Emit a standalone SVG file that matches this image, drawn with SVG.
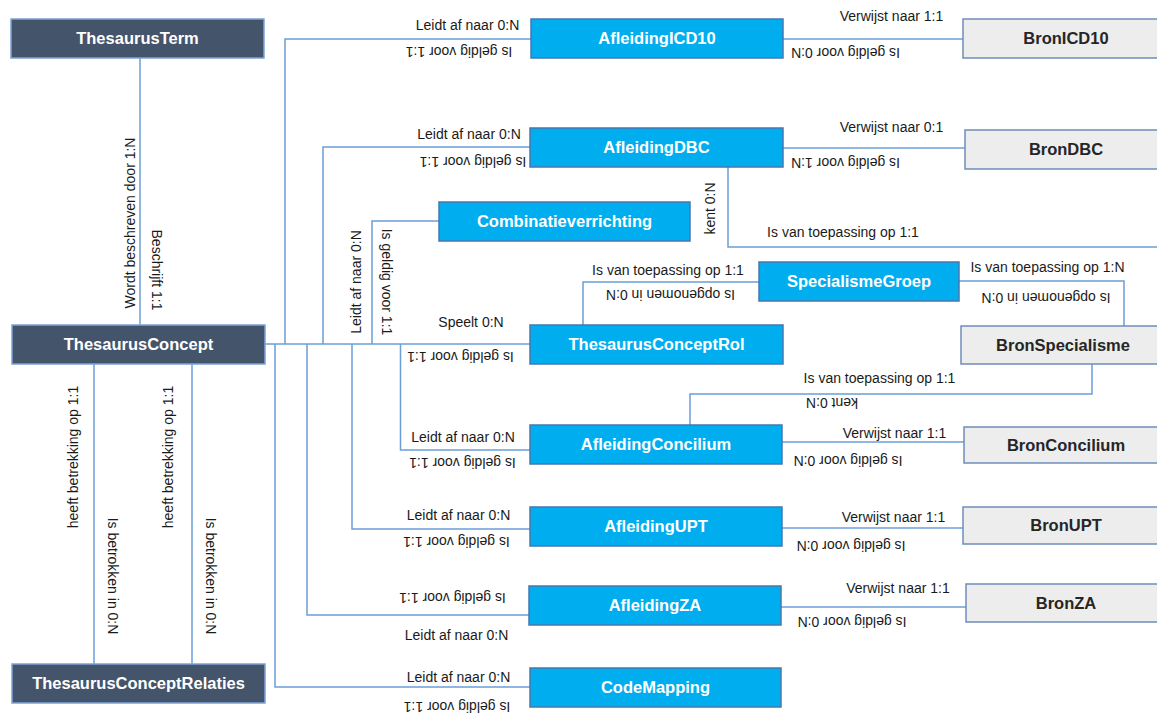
<svg xmlns="http://www.w3.org/2000/svg" width="1157" height="715" viewBox="0 0 1157 715">
<style>
.bg{fill:#ffffff}
.c{fill:none;stroke:#6A9FD8;stroke-width:1.5}
.nd rect{stroke-width:1.5}
.dk rect{fill:#44546A;stroke:#7FA3D6}
.bl rect{fill:#00AEEF;stroke:#4677B0}
.gr rect{fill:#EDEDED;stroke:#6F8DBA}
.nd text{font-family:"Liberation Sans",Arial,sans-serif;font-weight:bold;font-size:16.5px;text-anchor:middle}
.dk text,.bl text{fill:#ffffff}
.gr text{fill:#262626}
.l{font-family:"Liberation Sans",Arial,sans-serif;font-size:14px;fill:#1a1a1a;text-anchor:middle}
</style>
<rect class="bg" x="0" y="0" width="1157" height="715"/>
<g id="connectors">
<path class="c" d="M140 58V325"/>
<path class="c" d="M265 344H530"/>
<path class="c" d="M285 344V39H531"/>
<path class="c" d="M323 344V147H530"/>
<path class="c" d="M372 344V221H439"/>
<path class="c" d="M275 344V687H530"/>
<path class="c" d="M307 344V615H529"/>
<path class="c" d="M352 344V529H530"/>
<path class="c" d="M400.5 344V450H530"/>
<path class="c" d="M94 364V664"/>
<path class="c" d="M192 364V664"/>
<path class="c" d="M783 39H963"/>
<path class="c" d="M769 148H965"/>
<path class="c" d="M728 167V247H1157"/>
<path class="c" d="M583 325V282H759"/>
<path class="c" d="M959 281H1124V326"/>
<path class="c" d="M1092 364V394H690V425"/>
<path class="c" d="M782 442H964"/>
<path class="c" d="M782 528H963"/>
<path class="c" d="M781 607H966"/>
</g>
<g id="labels">
<text class="l" x="467.5" y="25" dy="0.35em">Leidt af naar 0:N</text>
<text class="l" transform="translate(459 52) rotate(180)" dy="0.35em">Is geldig voor 1:1</text>
<text class="l" x="891.5" y="16" dy="0.35em">Verwijst naar 1:1</text>
<text class="l" transform="translate(845.5 53) rotate(180)" dy="0.35em">Is geldig voor 0:N</text>
<text class="l" x="469" y="134" dy="0.35em">Leidt af naar 0:N</text>
<text class="l" transform="translate(473 162) rotate(180)" dy="0.35em">Is geldig voor 1:1</text>
<text class="l" x="891.5" y="127" dy="0.35em">Verwijst naar 0:1</text>
<text class="l" transform="translate(845.5 163) rotate(180)" dy="0.35em">Is geldig voor 1:N</text>
<text class="l" x="843" y="232" dy="0.35em">Is van toepassing op 1:1</text>
<text class="l" transform="translate(710 208.5) rotate(-90)" dy="0.35em">kent 0:N</text>
<text class="l" transform="translate(130 223) rotate(-90)" dy="0.35em">Wordt beschreven door 1:N</text>
<text class="l" transform="translate(157 270) rotate(90)" dy="0.35em">Beschrijft 1:1</text>
<text class="l" transform="translate(356 282) rotate(-90)" dy="0.35em">Leidt af naar 0:N</text>
<text class="l" transform="translate(387 282) rotate(90)" dy="0.35em">Is geldig voor 1:1</text>
<text class="l" x="471" y="322" dy="0.35em">Speelt 0:N</text>
<text class="l" transform="translate(460.5 357) rotate(180)" dy="0.35em">Is geldig voor 1:1</text>
<text class="l" x="668" y="270" dy="0.35em">Is van toepassing op 1:1</text>
<text class="l" transform="translate(670.5 295) rotate(180)" dy="0.35em">Is opgenomen in 0:N</text>
<text class="l" x="1047.5" y="267" dy="0.35em">Is van toepassing op 1:N</text>
<text class="l" transform="translate(1046 298) rotate(180)" dy="0.35em">Is opgenomen in 0:N</text>
<text class="l" x="879.5" y="378" dy="0.35em">Is van toepassing op 1:1</text>
<text class="l" transform="translate(832 403) rotate(180)" dy="0.35em">kent 0:N</text>
<text class="l" x="463" y="437" dy="0.35em">Leidt af naar 0:N</text>
<text class="l" transform="translate(462.5 463) rotate(180)" dy="0.35em">Is geldig voor 1:1</text>
<text class="l" x="894.5" y="433" dy="0.35em">Verwijst naar 1:1</text>
<text class="l" transform="translate(848 461) rotate(180)" dy="0.35em">Is geldig voor 0:N</text>
<text class="l" x="458.5" y="515" dy="0.35em">Leidt af naar 0:N</text>
<text class="l" transform="translate(456.5 542) rotate(180)" dy="0.35em">Is geldig voor 1:1</text>
<text class="l" x="893.5" y="517" dy="0.35em">Verwijst naar 1:1</text>
<text class="l" transform="translate(851 546) rotate(180)" dy="0.35em">Is geldig voor 0:N</text>
<text class="l" transform="translate(452.5 598) rotate(180)" dy="0.35em">Is geldig voor 1:1</text>
<text class="l" x="456.5" y="635" dy="0.35em">Leidt af naar 0:N</text>
<text class="l" x="898" y="588" dy="0.35em">Verwijst naar 1:1</text>
<text class="l" transform="translate(852 622) rotate(180)" dy="0.35em">Is geldig voor 0:N</text>
<text class="l" x="458.5" y="677" dy="0.35em">Leidt af naar 0:N</text>
<text class="l" transform="translate(457 707) rotate(180)" dy="0.35em">Is geldig voor 1:1</text>
<text class="l" transform="translate(73 457) rotate(-90)" dy="0.35em">heeft betrekking op 1:1</text>
<text class="l" transform="translate(113 576) rotate(90)" dy="0.35em">Is betrokken in 0:N</text>
<text class="l" transform="translate(168 457) rotate(-90)" dy="0.35em">heeft betrekking op 1:1</text>
<text class="l" transform="translate(211 576) rotate(90)" dy="0.35em">Is betrokken in 0:N</text>
</g>
<g id="ThesaurusTerm" class="nd dk"><rect x="11" y="19" width="253" height="39"/><text x="137.5" y="38.5" dy="0.35em">ThesaurusTerm</text></g>
<g id="ThesaurusConcept" class="nd dk"><rect x="12" y="325" width="253" height="39"/><text x="138.5" y="344.5" dy="0.35em">ThesaurusConcept</text></g>
<g id="ThesaurusConceptRelaties" class="nd dk"><rect x="12" y="664" width="253" height="39"/><text x="138.5" y="683.5" dy="0.35em">ThesaurusConceptRelaties</text></g>
<g id="AfleidingICD10" class="nd bl"><rect x="531" y="19" width="252" height="39"/><text x="657" y="38.5" dy="0.35em">AfleidingICD10</text></g>
<g id="AfleidingDBC" class="nd bl"><rect x="530" y="128" width="253" height="39"/><text x="656.5" y="147.5" dy="0.35em">AfleidingDBC</text></g>
<g id="Combinatieverrichting" class="nd bl"><rect x="439" y="202" width="251" height="39"/><text x="564.5" y="221.5" dy="0.35em">Combinatieverrichting</text></g>
<g id="ThesaurusConceptRol" class="nd bl"><rect x="530" y="325" width="253" height="39"/><text x="656.5" y="344.5" dy="0.35em">ThesaurusConceptRol</text></g>
<g id="SpecialismeGroep" class="nd bl"><rect x="759" y="262" width="200" height="39"/><text x="859" y="281.5" dy="0.35em">SpecialismeGroep</text></g>
<g id="AfleidingConcilium" class="nd bl"><rect x="530" y="425" width="252" height="39"/><text x="656" y="444.5" dy="0.35em">AfleidingConcilium</text></g>
<g id="AfleidingUPT" class="nd bl"><rect x="530" y="507" width="252" height="39"/><text x="656" y="526.5" dy="0.35em">AfleidingUPT</text></g>
<g id="AfleidingZA" class="nd bl"><rect x="529" y="586" width="252" height="39"/><text x="655" y="605.5" dy="0.35em">AfleidingZA</text></g>
<g id="CodeMapping" class="nd bl"><rect x="530" y="668" width="251" height="39"/><text x="655.5" y="687.5" dy="0.35em">CodeMapping</text></g>
<g id="BronICD10" class="nd gr"><rect x="963" y="19" width="206" height="39"/><text x="1066" y="38.5" dy="0.35em">BronICD10</text></g>
<g id="BronDBC" class="nd gr"><rect x="965" y="130" width="206" height="39"/><text x="1066" y="149.5" dy="0.35em">BronDBC</text></g>
<g id="BronSpecialisme" class="nd gr"><rect x="961" y="326" width="206" height="38"/><text x="1063" y="345" dy="0.35em">BronSpecialisme</text></g>
<g id="BronConcilium" class="nd gr"><rect x="964" y="427" width="206" height="36"/><text x="1066" y="445" dy="0.35em">BronConcilium</text></g>
<g id="BronUPT" class="nd gr"><rect x="963" y="507" width="206" height="37"/><text x="1066" y="525.5" dy="0.35em">BronUPT</text></g>
<g id="BronZA" class="nd gr"><rect x="966" y="584" width="206" height="38"/><text x="1066" y="603" dy="0.35em">BronZA</text></g>
</svg>
